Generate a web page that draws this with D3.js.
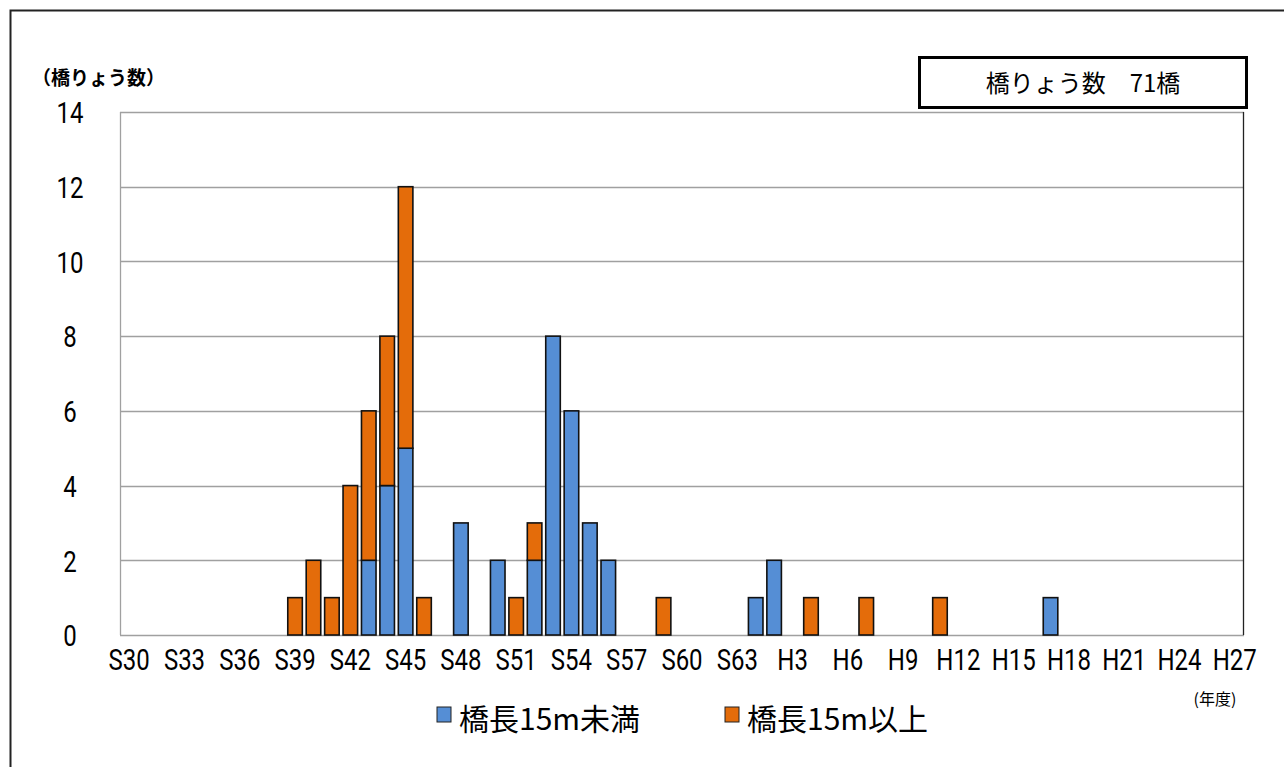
<!DOCTYPE html>
<html>
<head>
<meta charset="utf-8">
<script src="https://cdn.jsdelivr.net/npm/d3@7"></script>
<style>
  body { margin: 0; background: #fff; }
  .narrow { font-family: Roboto, "Liberation Sans", sans-serif; }
  .jp { font-family: "Noto Sans CJK JP", sans-serif; }
</style>
</head>
<body>
<div id="chart"></div>
<script>
"use strict";

// fiscal years S30 .. H27 (S64 shown as H1)
const years = [];
for (let y = 30; y <= 63; y++) years.push(`S${y}`);
for (let y = 1; y <= 27; y++) years.push(`H${y}`);

// bridges per year
const shortCounts = { S43: 2, S44: 4, S45: 5, S48: 3, S50: 2, S52: 2, S53: 8, S54: 6, S55: 3, S56: 2, H1: 1, H2: 2, H17: 1 };
const longCounts = { S39: 1, S40: 2, S41: 1, S42: 4, S43: 4, S44: 4, S45: 7, S46: 1, S51: 1, S52: 1, S59: 1, H4: 1, H7: 1, H11: 1 };

const seriesNames = ["橋長15m未満", "橋長15m以上"];
const seriesColors = ["#558ed5", "#e46c0a"];
const yTicks = [0, 2, 4, 6, 8, 10, 12, 14];
const xTickLabels = years.filter((_d, i) => i % 3 === 0);

const width = 1284, height = 767;
const margin = { top: 112, right: 40, bottom: 132, left: 120 };
const plotW = width - margin.left - margin.right;
const plotH = height - margin.top - margin.bottom;
const squeeze = 0.8; // narrow look of the tick labels

const table = years.map(y => ({ year: y, short: shortCounts[y] || 0, long: longCounts[y] || 0 }));
const stacked = d3.stack().keys(["short", "long"])(table);

const svg = d3.select("#chart").append("svg")
    .attr("width", width)
    .attr("height", height);

// outer frame
svg.append("path")
    .attr("d", `M10.5,${height} V10.5 H${width}`)
    .attr("fill", "none")
    .attr("stroke", "#222")
    .attr("stroke-width", 2);

const g = svg.append("g").attr("transform", `translate(${margin.left},${margin.top})`);

const x = d3.scaleBand().domain(years).range([0, plotW]).paddingInner(0.21).paddingOuter(0.105);
const y = d3.scaleLinear().domain([0, 14]).range([plotH, 0]);

// gridlines
g.append("g")
    .selectAll("line")
    .data(yTicks)
    .join("line")
    .attr("x1", 0)
    .attr("x2", plotW)
    .attr("y1", d => Math.round(y(d)) + 0.5)
    .attr("y2", d => Math.round(y(d)) + 0.5)
    .attr("stroke", "#a0a0a0")
    .attr("stroke-width", 1.3);

// plot border
g.append("line").attr("x1", 0.5).attr("x2", 0.5).attr("y1", 0).attr("y2", plotH)
    .attr("stroke", "#a0a0a0").attr("stroke-width", 1.3);
g.append("line").attr("x1", plotW - 0.5).attr("x2", plotW - 0.5).attr("y1", 0).attr("y2", plotH)
    .attr("stroke", "#222").attr("stroke-width", 1.3);

// bars
g.selectAll(".series")
    .data(stacked)
    .join("g")
    .attr("class", "series")
    .attr("fill", (_d, i) => seriesColors[i])
    .selectAll("rect")
    .data(d => d.filter(p => p[1] - p[0] > 0))
    .join("rect")
    .attr("x", d => x(d.data.year))
    .attr("width", x.bandwidth())
    .attr("y", d => y(d[1]))
    .attr("height", d => y(d[0]) - y(d[1]))
    .attr("stroke", "#111")
    .attr("stroke-width", 1.6);

// y axis labels
const yAxis = d3.axisLeft(y).tickValues(yTicks).tickSize(0);
g.append("g")
    .attr("class", "narrow")
    .call(yAxis)
    .call(s => s.select(".domain").remove())
    .selectAll("text")
    .style("font-size", "30px")
    .attr("fill", "#000")
    .attr("text-anchor", "middle")
    .attr("dy", "0.36em")
    .attr("x", -50 / squeeze)
    .attr("transform", `scale(${squeeze},1)`);

// x axis labels
const xAxis = d3.axisBottom(x).tickValues(xTickLabels).tickSize(0).tickPadding(14);
g.append("g")
    .attr("class", "narrow")
    .attr("transform", `translate(0,${plotH})`)
    .call(xAxis)
    .call(s => s.select(".domain").remove())
    .selectAll("text")
    .style("font-size", "30px")
    .attr("fill", "#000")
    .attr("transform", `scale(${squeeze},1)`);

// y axis title
svg.append("text")
    .attr("class", "jp")
    .attr("x", 32)
    .attr("y", 85)
    .attr("font-size", 19)
    .attr("font-weight", "bold")
    .text("（橋りょう数）");

// x unit
svg.append("text")
    .attr("class", "jp")
    .attr("x", 1215)
    .attr("y", 705)
    .attr("text-anchor", "middle")
    .attr("font-size", 16)
    .text("(年度)");

// total box
svg.append("rect")
    .attr("x", 919.5)
    .attr("y", 57.5)
    .attr("width", 327)
    .attr("height", 50)
    .attr("fill", "#fff")
    .attr("stroke", "#000")
    .attr("stroke-width", 3);

svg.append("text")
    .attr("class", "jp")
    .attr("x", 1083)
    .attr("y", 92)
    .attr("text-anchor", "middle")
    .attr("font-size", 24)
    .text("橋りょう数　71橋");

// legend
const legendX = [437, 725];
const legend = svg.selectAll(".legend")
    .data(seriesNames)
    .join("g")
    .attr("class", "legend")
    .attr("transform", (_d, i) => `translate(${legendX[i]},707)`);

legend.append("rect")
    .attr("width", 14)
    .attr("height", 15)
    .attr("fill", (_d, i) => seriesColors[i])
    .attr("stroke", "#222")
    .attr("stroke-width", 1);

legend.append("text")
    .attr("class", "jp")
    .attr("x", 22)
    .attr("y", 23)
    .attr("font-size", 30)
    .text(d => d);
</script>
</body>
</html>
